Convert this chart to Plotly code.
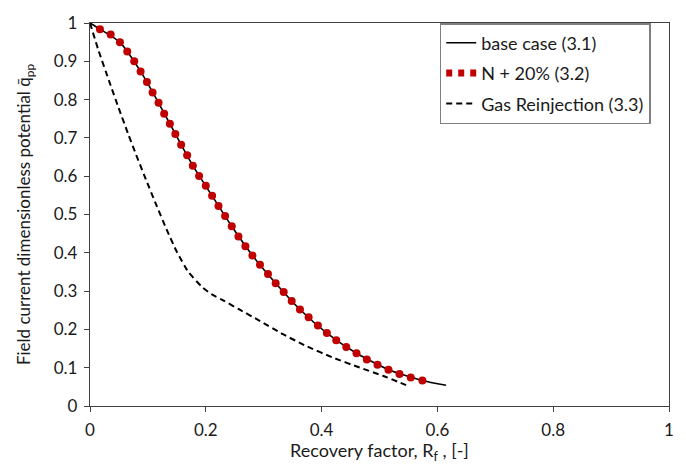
import plotly.graph_objects as go

# N + 20% (3.2) dotted series
n20_x = [0.0172, 0.0357, 0.0517, 0.0643, 0.0764, 0.0874, 0.0983, 0.1081, 0.1184, 0.1281,
         0.1379, 0.1474, 0.1574, 0.1678, 0.1776, 0.1884, 0.2000, 0.2109, 0.2219, 0.2333,
         0.2448, 0.2564, 0.2684, 0.2805, 0.2936, 0.3074, 0.3207, 0.3345, 0.3483, 0.3626,
         0.3776, 0.3936, 0.4091, 0.4253, 0.4426, 0.4603, 0.4781, 0.4966, 0.5155, 0.5345,
         0.5540, 0.5741]
n20_y = [0.984, 0.970, 0.9495, 0.9256, 0.900, 0.8736, 0.8462, 0.8187, 0.7915, 0.7633,
         0.7367, 0.7103, 0.682, 0.6546, 0.6274, 0.6008, 0.5751, 0.5487, 0.5223, 0.4962,
         0.4692, 0.4428, 0.4172, 0.3931, 0.3685, 0.3444, 0.3205, 0.2974, 0.2744, 0.2521,
         0.2315, 0.2103, 0.1905, 0.1718, 0.1538, 0.1377, 0.1213, 0.1077, 0.0949, 0.0838,
         0.0744, 0.0667]

# base case (3.1) solid series
base_x = [0.0, 0.0172, 0.0517, 0.0874, 0.1184, 0.1474, 0.1776, 0.2109, 0.2448, 0.2805,
          0.3207, 0.3626, 0.4091, 0.4603, 0.5155, 0.5741, 0.615]
base_y = [1.0, 0.984, 0.9495, 0.8736, 0.7915, 0.7103, 0.6274, 0.5487, 0.4692, 0.3931,
          0.3205, 0.2521, 0.1905, 0.1377, 0.0949, 0.0667, 0.054]

# Gas Reinjection (3.3) dashed series
gas_x = [0.0, 0.0143, 0.0345, 0.0488, 0.066, 0.0776, 0.0948, 0.115, 0.132, 0.1495,
         0.1695, 0.1926, 0.2098, 0.2316, 0.2586, 0.2931, 0.3333, 0.3736, 0.4195, 0.4655,
         0.5057, 0.546]
gas_y = [1.0, 0.930, 0.842, 0.781, 0.710, 0.664, 0.598, 0.523, 0.462, 0.404,
         0.351, 0.312, 0.292, 0.2745, 0.2515, 0.2225, 0.1874, 0.1564, 0.1264, 0.1005,
         0.079, 0.0545]

x_ticks = [0, 0.2, 0.4, 0.6, 0.8, 1]
y_ticks = [0, 0.1, 0.2, 0.3, 0.4, 0.5, 0.6, 0.7, 0.8, 0.9, 1]
legend_names = ["base case (3.1)", "N + 20% (3.2)", "Gas Reinjection (3.3)"]

FONT = "Lato"
RED = "#C00000"
TXT = "#1a1a1a"

fig = go.Figure()
fig.add_trace(go.Scatter(x=base_x, y=base_y, mode="lines", name=legend_names[0],
                         legendgroup="g1",
                         line=dict(color="black", width=1.6, shape="spline", smoothing=0.6)))
fig.add_trace(go.Scatter(x=n20_x, y=n20_y, mode="markers", name=legend_names[1],
                         marker=dict(color=RED, size=8), showlegend=False,
                         legendgroup="g2"))
# legend entry mimicking the round-dot line style
fig.add_trace(go.Scatter(x=[None], y=[None], mode="lines", name=legend_names[1],
                         line=dict(color=RED, width=7, dash="6px,6px"),
                         legendgroup="g2"))
fig.add_trace(go.Scatter(x=gas_x, y=gas_y, mode="lines", name=legend_names[2],
                         legendgroup="g3",
                         line=dict(color="black", width=2, dash="6px,4px",
                                   shape="spline", smoothing=0.5)))

axis_common = dict(showgrid=False, zeroline=False, showline=True, linecolor="#404040",
                   linewidth=1.3, mirror=True, ticks="outside", ticklen=5,
                   tickcolor="#404040", tickfont=dict(family=FONT, size=17, color=TXT))

fig.update_layout(
    width=686, height=464,
    margin=dict(l=90, r=17, t=16, b=58),
    paper_bgcolor="white", plot_bgcolor="white",
    font=dict(family=FONT, size=18, color=TXT),
    xaxis=dict(range=[0, 1], tickvals=x_ticks, ticktext=[str(v) for v in x_ticks],
               ticklabelstandoff=3, automargin=False,
               title=dict(text="Recovery factor, R<sub>f</sub> , [-]",
                          font=dict(family=FONT, size=18, color=TXT)),
               **axis_common),
    yaxis=dict(range=[0, 1], tickvals=y_ticks, ticktext=[str(v) for v in y_ticks],
               ticklabelstandoff=3, automargin=True,
               title=dict(text="Field current dimensionless potential q\u0304<sub>pp</sub>",
                          font=dict(family=FONT, size=17, color=TXT), standoff=18),
               **axis_common),
    legend=dict(x=0.604, y=1.0, xanchor="left", yanchor="top",
                bgcolor="white", bordercolor="#7f7f7f", borderwidth=1.5,
                font=dict(family=FONT, size=18, color=TXT),
                traceorder="grouped", tracegroupgap=4, entrywidth=181),
    showlegend=True,
)

fig.write_html("out.html")
